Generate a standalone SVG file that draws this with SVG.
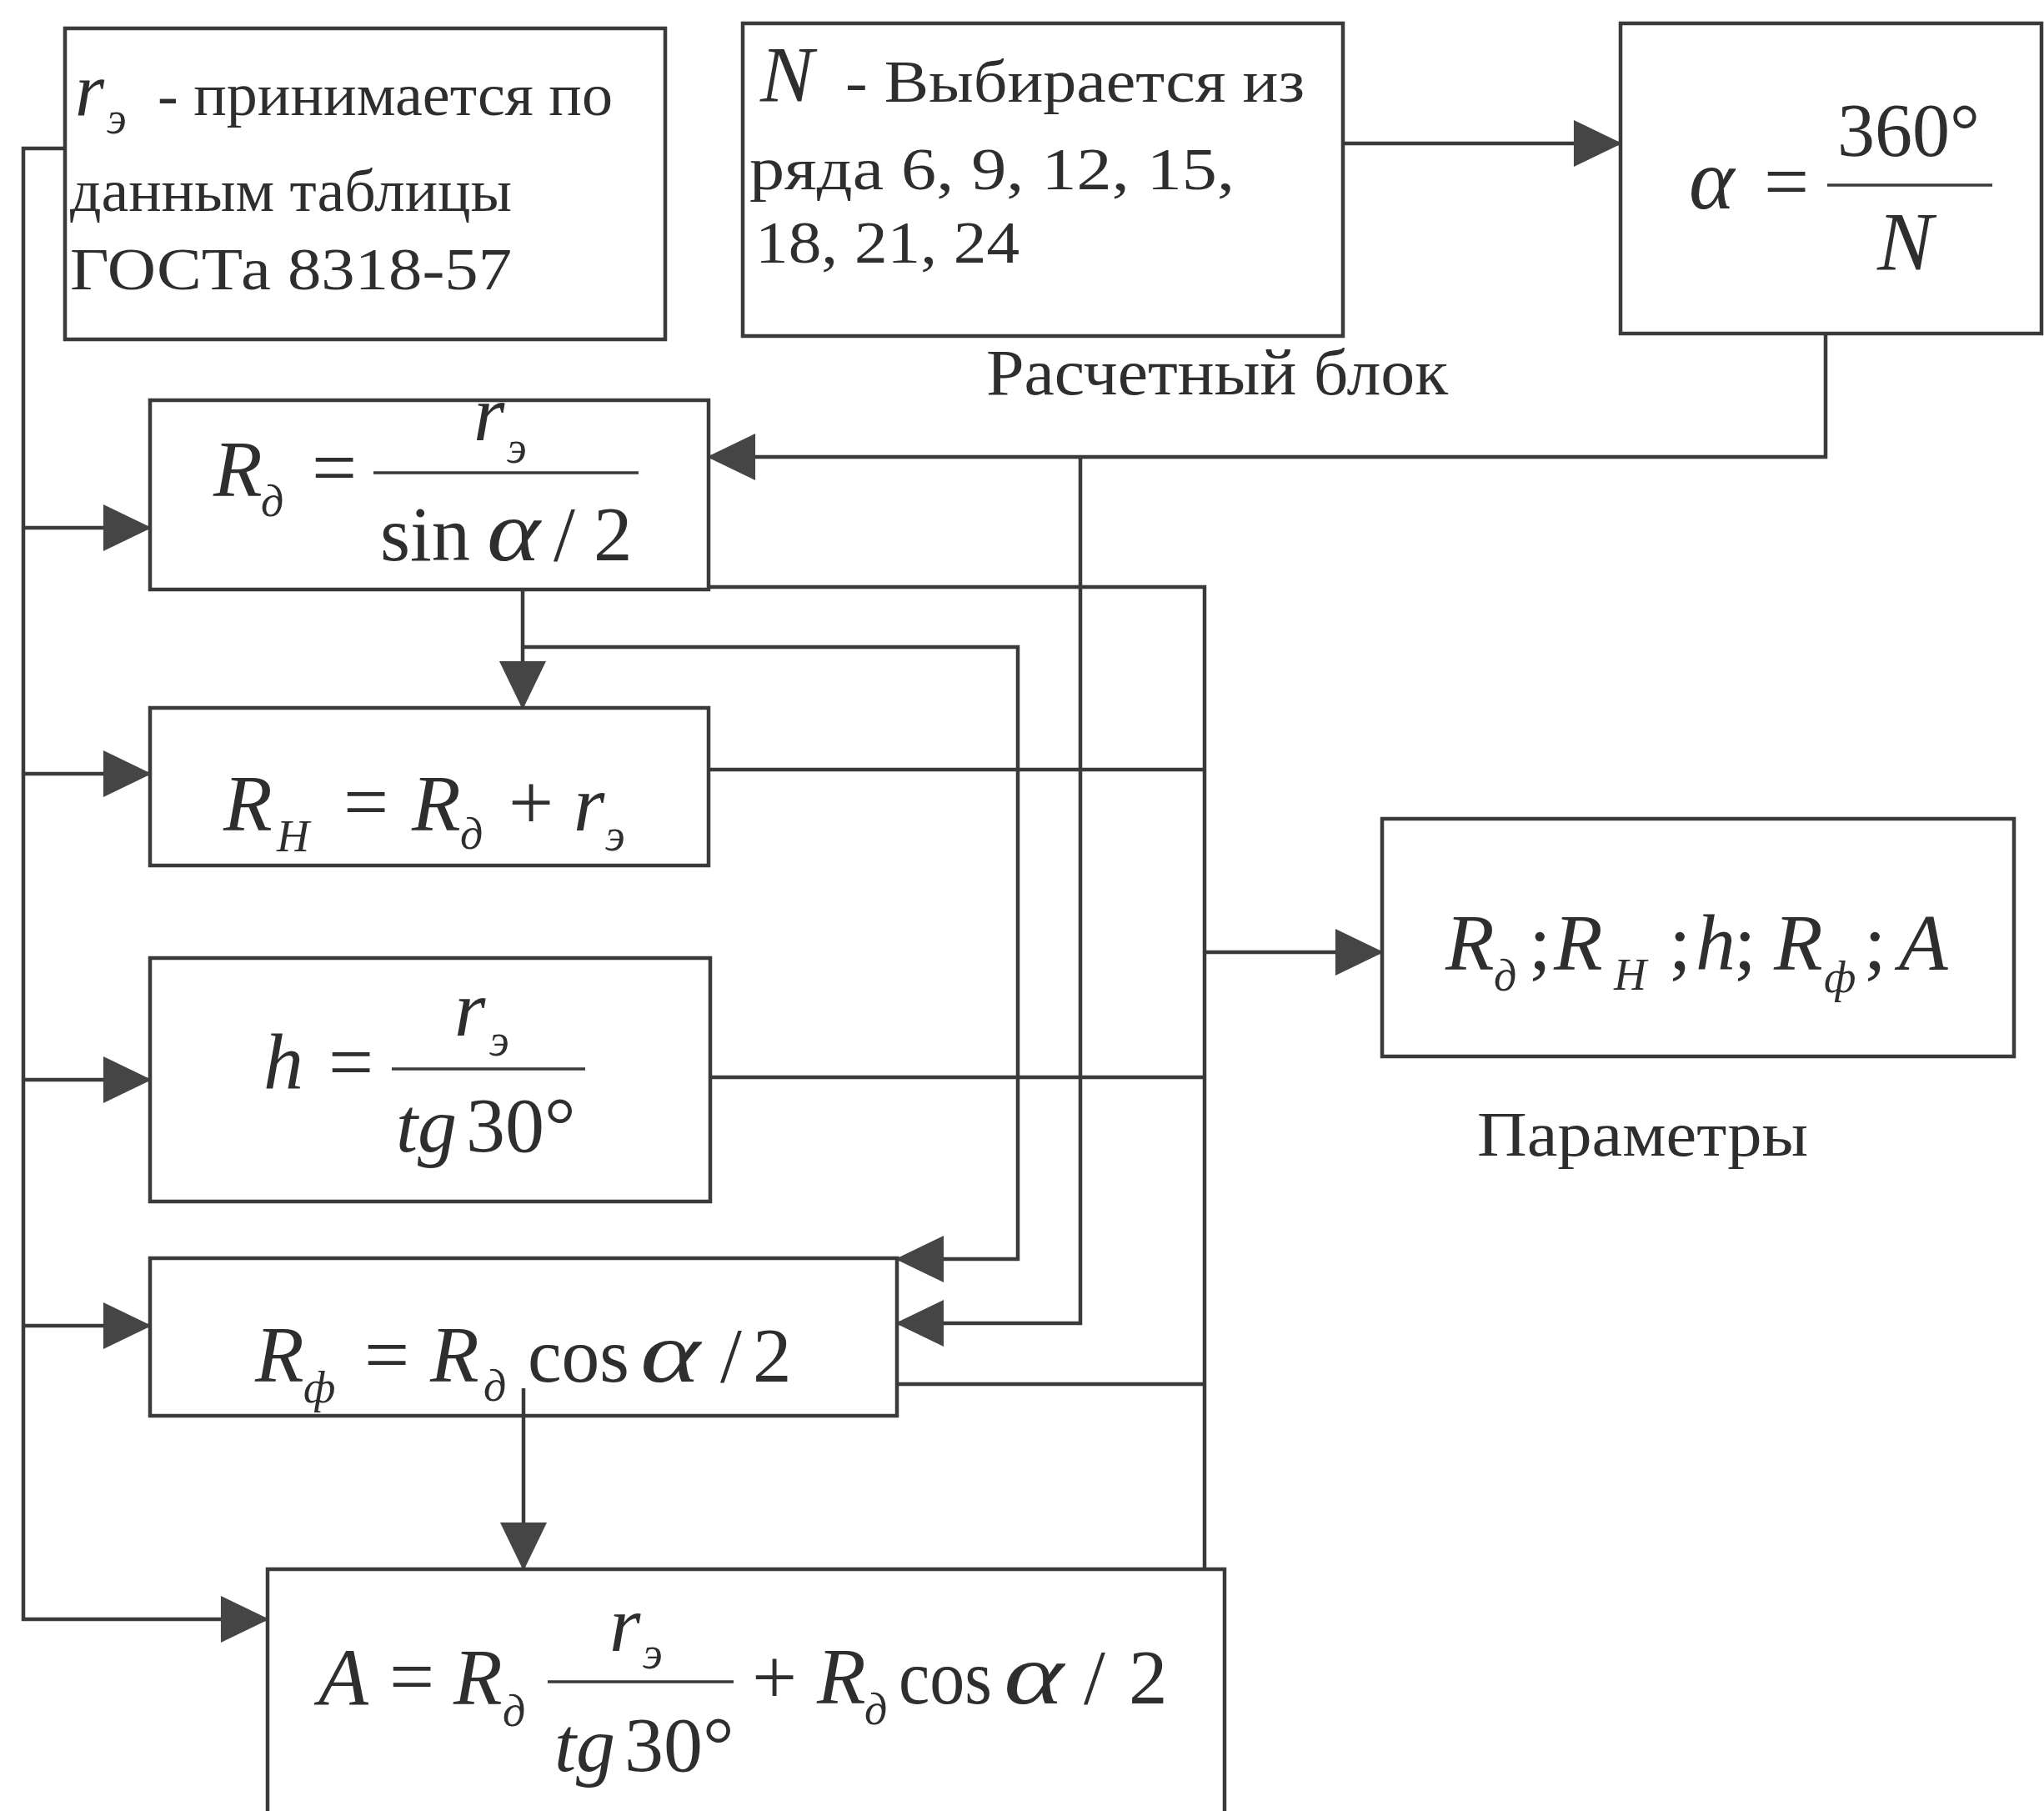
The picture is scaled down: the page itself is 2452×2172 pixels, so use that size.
<svg xmlns="http://www.w3.org/2000/svg" width="2452" height="2172" viewBox="0 0 2452 2172">
<defs>
<style>
.box{fill:none;stroke:#3a3a3a;stroke-width:4.5}
.ln{fill:none;stroke:#3a3a3a;stroke-width:4.5}
.fr{stroke:#3a3a3a;stroke-width:3.5}
text{font-family:"Liberation Serif","Times New Roman",serif;fill:#2e2e2e}
.i{font-style:italic}
.m{font-size:96px}
.s{font-size:54px;font-style:italic}
.t{font-size:72px}
.a{font-size:104px;font-style:italic}
</style>
<marker id="ah" viewBox="0 0 60 60" refX="58" refY="30" markerUnits="userSpaceOnUse" markerWidth="60" markerHeight="58" orient="auto">
<path d="M0,1 L60,30 L0,59 z" fill="#454545"/>
</marker>
</defs>
<rect width="2452" height="2172" fill="#ffffff"/>

<g id="connectors">
<path class="ln" d="M1611,172 H1944" marker-end="url(#ah)"/>
<path class="ln" d="M78,178 H28 V1942 H321" marker-end="url(#ah)"/>
<path class="ln" d="M28,633 H180" marker-end="url(#ah)"/>
<path class="ln" d="M28,928 H180" marker-end="url(#ah)"/>
<path class="ln" d="M28,1295 H180" marker-end="url(#ah)"/>
<path class="ln" d="M28,1590 H180" marker-end="url(#ah)"/>
<path class="ln" d="M2190,400 V548 H850" marker-end="url(#ah)"/>
<path class="ln" d="M1296,548 V1587 H1076" marker-end="url(#ah)"/>
<path class="ln" d="M627,707 V849" marker-end="url(#ah)"/>
<path class="ln" d="M627,776 H1221 V1510 H1076" marker-end="url(#ah)"/>
<path class="ln" d="M850,704 H1445 V1882"/>
<path class="ln" d="M850,923 H1445"/>
<path class="ln" d="M852,1292 H1445"/>
<path class="ln" d="M1076,1660 H1445"/>
<path class="ln" d="M1445,1142 H1658" marker-end="url(#ah)"/>
<path class="ln" d="M628,1665 V1882" marker-end="url(#ah)"/>
</g>

<g id="node-re">
<rect class="box" x="78" y="34" width="720" height="373"/>
<text class="i" x="90" y="138" font-size="90">r</text>
<text class="s" x="128" y="160">э</text>
<text class="t" x="189" y="138" font-size="70" textLength="546" lengthAdjust="spacingAndGlyphs">- принимается по</text>
<text class="t" x="84" y="253" font-size="78" textLength="530" lengthAdjust="spacingAndGlyphs">данным таблицы</text>
<text class="t" x="84" y="347" font-size="84" textLength="530" lengthAdjust="spacingAndGlyphs">ГОСТа 8318-57</text>
</g>

<g id="node-N">
<rect class="box" x="891" y="28" width="720" height="375"/>
<text class="i" x="912" y="122" font-size="96">N</text>
<text class="t" x="1014" y="122" textLength="551" lengthAdjust="spacingAndGlyphs">- Выбирается из</text>
<text class="t" x="899" y="227" textLength="582" lengthAdjust="spacingAndGlyphs">ряда  6, 9, 12, 15,</text>
<text class="t" x="906" y="315" textLength="317" lengthAdjust="spacingAndGlyphs">18, 21, 24</text>
</g>

<g id="node-alpha">
<rect class="box" x="1944" y="28" width="505" height="372"/>
<text class="a" x="2026" y="250" font-size="108">α</text>
<text x="2116" y="250" font-size="96">=</text>
<line class="fr" x1="2192" y1="222" x2="2390" y2="222"/>
<text x="2204" y="187" font-size="90">360°</text>
<text class="i" x="2252" y="323" font-size="100">N</text>
</g>

<text x="1183" y="473" font-size="78" textLength="554" lengthAdjust="spacingAndGlyphs">Расчетный блок</text>

<g id="node-Rd">
<rect class="box" x="180" y="480" width="670" height="227"/>
<text class="m i" x="256" y="595">R</text>
<text class="s" x="313" y="619">д</text>
<text class="m" x="374" y="593">=</text>
<line class="fr" x1="448" y1="567" x2="766" y2="567"/>
<text class="m i" x="568" y="528">r</text>
<text class="s" x="608" y="555">э</text>
<text x="456" y="672" font-size="93" textLength="108" lengthAdjust="spacingAndGlyphs">sin</text>
<text class="a" x="584" y="672" textLength="64" lengthAdjust="spacingAndGlyphs">α</text>
<text x="664" y="672" font-size="93">/</text>
<text x="712" y="672" font-size="93">2</text>
</g>

<g id="node-RH">
<rect class="box" x="180" y="849" width="670" height="189"/>
<text class="m i" x="268" y="996">R</text>
<text class="s" x="332" y="1021">Н</text>
<text class="m" x="412" y="994">=</text>
<text class="m i" x="494" y="996">R</text>
<text class="s" x="552" y="1018">д</text>
<text class="m" x="610" y="994">+</text>
<text class="m i" x="688" y="996">r</text>
<text class="s" x="726" y="1020">э</text>
</g>

<g id="node-h">
<rect class="box" x="180" y="1149" width="672" height="292"/>
<text class="m i" x="316" y="1306">h</text>
<text class="m" x="394" y="1306">=</text>
<line class="fr" x1="470" y1="1282" x2="702" y2="1282"/>
<text class="m i" x="545" y="1242">r</text>
<text class="s" x="587" y="1266">э</text>
<text class="i" x="475" y="1381" font-size="94">tg</text>
<text x="559" y="1381" font-size="94">30°</text>
</g>

<g id="node-Rf">
<rect class="box" x="180" y="1509" width="896" height="189"/>
<text class="m i" x="306" y="1657">R</text>
<text class="s" x="364" y="1682">ф</text>
<text class="m" x="437" y="1657">=</text>
<text class="m i" x="516" y="1657">R</text>
<text class="s" x="580" y="1680">д</text>
<text x="633" y="1657" font-size="93" textLength="122" lengthAdjust="spacingAndGlyphs">cos</text>
<text class="a" x="768" y="1657" textLength="72" lengthAdjust="spacingAndGlyphs">α</text>
<text x="864" y="1657" font-size="93">/</text>
<text x="903" y="1657" font-size="93">2</text>
</g>

<g id="node-A">
<rect class="box" x="321" y="1882" width="1148" height="320"/>
<text class="i" x="382" y="2044" font-size="98">A</text>
<text class="m" x="467" y="2043">=</text>
<text class="m i" x="544" y="2044">R</text>
<text class="s" x="603" y="2070">д</text>
<line class="fr" x1="657" y1="2017" x2="880" y2="2017"/>
<text class="m i" x="731" y="1980">r</text>
<text class="s" x="771" y="2001">э</text>
<text class="i" x="665" y="2124" font-size="94">tg</text>
<text x="749" y="2124" font-size="94">30°</text>
<text class="m" x="902" y="2043">+</text>
<text class="m i" x="980" y="2043">R</text>
<text class="s" x="1037" y="2068">д</text>
<text x="1078" y="2043" font-size="93" textLength="112" lengthAdjust="spacingAndGlyphs">cos</text>
<text class="a" x="1204" y="2043" textLength="72" lengthAdjust="spacingAndGlyphs">α</text>
<text x="1300" y="2043" font-size="93">/</text>
<text x="1354" y="2043" font-size="93">2</text>
</g>

<g id="node-params">
<rect class="box" x="1658" y="982" width="758" height="285"/>
<text class="m i" x="1734" y="1163">R</text>
<text class="s" x="1792" y="1188">д</text>
<text class="m" x="1834" y="1163">;</text>
<text class="m i" x="1864" y="1163">R</text>
<text class="s" x="1936" y="1187" font-size="48">Н</text>
<text class="m" x="2002" y="1163">;</text>
<text class="m i" x="2034" y="1163">h</text>
<text class="m" x="2080" y="1163">;</text>
<text class="m i" x="2128" y="1163">R</text>
<text class="s" x="2188" y="1190">ф</text>
<text class="m" x="2236" y="1163">;</text>
<text class="m i" x="2278" y="1163">A</text>
</g>

<text x="1772" y="1386" font-size="76" textLength="397" lengthAdjust="spacingAndGlyphs">Параметры</text>
</svg>
